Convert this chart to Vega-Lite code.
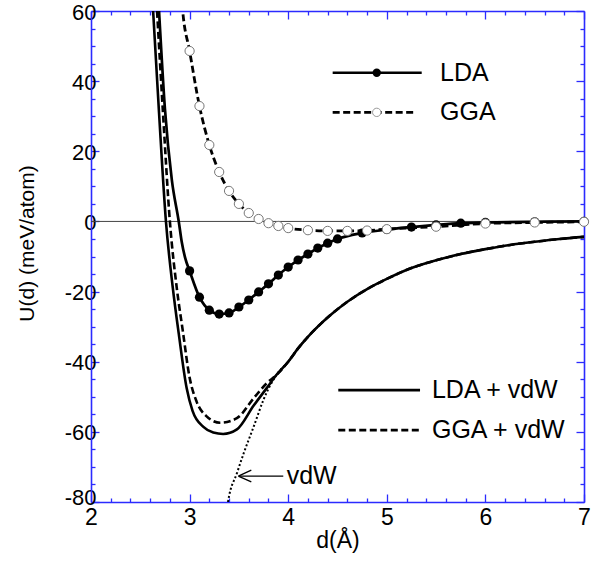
{
  "$schema": "https://vega.github.io/schema/vega-lite/v6.json",
  "width": 493,
  "height": 491,
  "autosize": {"type": "none"},
  "padding": {"left": 91, "top": 11, "right": 16, "bottom": 63},
  "config": {"view": {"stroke": null}, "font": "Liberation Sans"},
  "datasets": {
    "lda": [
      {"d": 2.66, "U": 75, "measured": false},
      {"d": 2.69, "U": 60, "measured": false},
      {"d": 2.75, "U": 32, "measured": false},
      {"d": 2.82, "U": 11.8, "measured": false},
      {"d": 2.89, "U": 0, "measured": false},
      {"d": 2.92, "U": -5.8, "measured": false},
      {"d": 2.955, "U": -10.4, "measured": false},
      {"d": 3.0, "U": -14.1, "measured": true},
      {"d": 3.1, "U": -21.6, "measured": true},
      {"d": 3.2, "U": -25.3, "measured": true},
      {"d": 3.3, "U": -26.4, "measured": true},
      {"d": 3.4, "U": -26.1, "measured": true},
      {"d": 3.5, "U": -24.4, "measured": true},
      {"d": 3.6, "U": -22.4, "measured": true},
      {"d": 3.7, "U": -20.1, "measured": true},
      {"d": 3.8, "U": -17.8, "measured": true},
      {"d": 3.9, "U": -15.3, "measured": true},
      {"d": 4.0, "U": -13.0, "measured": true},
      {"d": 4.1, "U": -11.0, "measured": true},
      {"d": 4.2, "U": -9.3, "measured": true},
      {"d": 4.3, "U": -7.6, "measured": true},
      {"d": 4.4, "U": -6.2, "measured": true},
      {"d": 4.5, "U": -5.0, "measured": true},
      {"d": 4.75, "U": -3.3, "measured": true},
      {"d": 5.0, "U": -2.3, "measured": true},
      {"d": 5.25, "U": -1.6, "measured": true},
      {"d": 5.5, "U": -1.0, "measured": true},
      {"d": 5.75, "U": -0.5, "measured": true},
      {"d": 6.0, "U": -0.3, "measured": true},
      {"d": 6.5, "U": -0.1, "measured": true},
      {"d": 7.0, "U": 0.0, "measured": true}
    ],
    "gga": [
      {"d": 2.88, "U": 80, "measured": false},
      {"d": 2.93, "U": 60, "measured": false},
      {"d": 3.0, "U": 48.6, "measured": true},
      {"d": 3.1, "U": 32.9, "measured": true},
      {"d": 3.2, "U": 21.8, "measured": true},
      {"d": 3.3, "U": 14.1, "measured": true},
      {"d": 3.4, "U": 8.7, "measured": true},
      {"d": 3.5, "U": 5.0, "measured": true},
      {"d": 3.6, "U": 2.4, "measured": true},
      {"d": 3.7, "U": 0.7, "measured": true},
      {"d": 3.8, "U": -0.5, "measured": true},
      {"d": 3.9, "U": -1.3, "measured": true},
      {"d": 4.0, "U": -1.9, "measured": true},
      {"d": 4.2, "U": -2.5, "measured": true},
      {"d": 4.4, "U": -2.7, "measured": true},
      {"d": 4.6, "U": -2.7, "measured": true},
      {"d": 4.8, "U": -2.6, "measured": true},
      {"d": 5.0, "U": -2.2, "measured": true},
      {"d": 5.5, "U": -1.5, "measured": true},
      {"d": 6.0, "U": -0.6, "measured": true},
      {"d": 6.5, "U": -0.3, "measured": true},
      {"d": 7.0, "U": -0.1, "measured": true}
    ],
    "ldavdw": [
      {"d": 2.6, "U": 75},
      {"d": 2.63, "U": 60},
      {"d": 2.69, "U": 31},
      {"d": 2.76, "U": 0},
      {"d": 2.83, "U": -19},
      {"d": 2.89, "U": -32},
      {"d": 2.97, "U": -47.5},
      {"d": 3.03, "U": -54},
      {"d": 3.14, "U": -58.6},
      {"d": 3.24, "U": -60.2},
      {"d": 3.34, "U": -60.6},
      {"d": 3.48, "U": -59.3},
      {"d": 3.65, "U": -52.5},
      {"d": 3.78, "U": -47.6},
      {"d": 3.88, "U": -43.8},
      {"d": 4.0, "U": -40},
      {"d": 4.1, "U": -36.2},
      {"d": 4.2, "U": -32.9},
      {"d": 4.3, "U": -30},
      {"d": 4.42, "U": -26.9},
      {"d": 4.6, "U": -22.9},
      {"d": 4.8, "U": -19.3},
      {"d": 5.0, "U": -16.4},
      {"d": 5.25, "U": -13.3},
      {"d": 5.5, "U": -11.1},
      {"d": 5.75, "U": -9.3},
      {"d": 6.0, "U": -7.9},
      {"d": 6.25, "U": -6.7},
      {"d": 6.5, "U": -5.8},
      {"d": 6.75, "U": -5.0},
      {"d": 7.0, "U": -4.4}
    ],
    "ggavdw": [
      {"d": 2.64, "U": 75},
      {"d": 2.67, "U": 60},
      {"d": 2.73, "U": 31},
      {"d": 2.8, "U": 0},
      {"d": 2.87, "U": -19},
      {"d": 2.93, "U": -31},
      {"d": 3.0, "U": -44.5},
      {"d": 3.07, "U": -51.3},
      {"d": 3.17, "U": -55.5},
      {"d": 3.31, "U": -57.4},
      {"d": 3.48, "U": -56.1},
      {"d": 3.65, "U": -50.4},
      {"d": 3.78, "U": -46.2},
      {"d": 3.88, "U": -43.8},
      {"d": 4.0, "U": -40},
      {"d": 4.1, "U": -36.2},
      {"d": 4.2, "U": -32.9},
      {"d": 4.3, "U": -30},
      {"d": 4.42, "U": -26.9},
      {"d": 4.6, "U": -22.9},
      {"d": 4.8, "U": -19.3},
      {"d": 5.0, "U": -16.4},
      {"d": 5.25, "U": -13.3},
      {"d": 5.5, "U": -11.1},
      {"d": 5.75, "U": -9.3},
      {"d": 6.0, "U": -7.9},
      {"d": 6.25, "U": -6.7},
      {"d": 6.5, "U": -5.8},
      {"d": 6.75, "U": -5.0},
      {"d": 7.0, "U": -4.4}
    ],
    "vdw": [
      {"d": 3.37, "U": -86},
      {"d": 3.39, "U": -80},
      {"d": 3.48, "U": -71.8},
      {"d": 3.55, "U": -66},
      {"d": 3.65, "U": -58.5},
      {"d": 3.75, "U": -50.8},
      {"d": 3.88, "U": -43.8},
      {"d": 4.0, "U": -40},
      {"d": 4.1, "U": -36.2},
      {"d": 4.2, "U": -32.9},
      {"d": 4.3, "U": -30},
      {"d": 4.42, "U": -26.9}
    ]
  },
  "resolve": {"axis": {"x": "independent", "y": "independent"}},
  "layer": [
    {
      "mark": {"type": "rule", "color": "#444444", "strokeWidth": 1},
      "data": {"values": [{"U": 0}]},
      "encoding": {
        "y": {"field": "U", "type": "quantitative", "scale": {"domain": [-80, 60], "nice": false, "zero": false}, "axis": null}
      }
    },
    {
      "data": {"name": "vdw"},
      "mark": {"type": "line", "color": "black", "strokeWidth": 2, "strokeDash": [2, 2.2], "clip": true, "interpolate": "monotone"},
      "encoding": {
        "x": {"field": "d", "type": "quantitative", "scale": {"domain": [2, 7], "nice": false, "zero": false},
          "axis": {"orient": "top", "values": [2, 3, 4, 5, 6, 7], "tickSize": -8, "tickColor": "#2b2bff", "tickWidth": 1.3, "domainColor": "#2b2bff", "domainWidth": 1.6, "labels": false, "title": null, "grid": false}},
        "y": {"field": "U", "type": "quantitative", "scale": {"domain": [-80, 60], "nice": false, "zero": false},
          "axis": {"orient": "right", "values": [-80, -60, -40, -20, 0, 20, 40, 60], "tickSize": -8, "tickColor": "#2b2bff", "tickWidth": 1.3, "domainColor": "#2b2bff", "domainWidth": 1.6, "labels": false, "title": null, "grid": false}}
      }
    },
    {
      "data": {"name": "ggavdw"},
      "mark": {"type": "line", "color": "black", "strokeWidth": 2.6, "strokeDash": [7, 3.5], "clip": true, "interpolate": "monotone"},
      "encoding": {
        "x": {"field": "d", "type": "quantitative", "scale": {"domain": [2, 7], "nice": false, "zero": false},
          "axis": {"orient": "bottom", "values": [2.2, 2.4, 2.6, 2.8, 3.2, 3.4, 3.6, 3.8, 4.2, 4.4, 4.6, 4.8, 5.2, 5.4, 5.6, 5.8, 6.2, 6.4, 6.6, 6.8], "tickSize": -4, "tickColor": "#2b2bff", "tickWidth": 1.3, "domain": false, "labels": false, "title": null, "grid": false}},
        "y": {"field": "U", "type": "quantitative", "scale": {"domain": [-80, 60], "nice": false, "zero": false},
          "axis": {"orient": "left", "values": [-75, -70, -65, -55, -50, -45, -35, -30, -25, -15, -10, -5, 5, 10, 15, 25, 30, 35, 45, 50, 55], "tickSize": -4, "tickColor": "#2b2bff", "tickWidth": 1.3, "domain": false, "labels": false, "title": null, "grid": false}}
      }
    },
    {
      "data": {"name": "ldavdw"},
      "mark": {"type": "line", "color": "black", "strokeWidth": 2.6, "clip": true, "interpolate": "monotone"},
      "encoding": {
        "x": {"field": "d", "type": "quantitative", "scale": {"domain": [2, 7], "nice": false, "zero": false},
          "axis": {"orient": "bottom", "values": [2, 3, 4, 5, 6, 7], "tickSize": -8, "tickColor": "#2b2bff", "tickWidth": 1.3, "domainColor": "#2b2bff", "domainWidth": 1.6, "labelFontSize": 23, "labelColor": "black", "labelPadding": 12, "labelExpr": "'' + datum.value", "labelFlush": false, "labelOverlap": false, "title": "d(Å)", "titleFontSize": 23, "titleFontWeight": "normal", "titleColor": "black", "titlePadding": 0, "grid": false}},
        "y": {"field": "U", "type": "quantitative", "scale": {"domain": [-80, 60], "nice": false, "zero": false},
          "axis": {"orient": "left", "values": [-80, -60, -40, -20, 0, 20, 40, 60], "tickSize": -8, "tickColor": "#2b2bff", "tickWidth": 1.3, "domainColor": "#2b2bff", "domainWidth": 1.6, "labelFontSize": 22, "labelColor": "black", "labelPadding": 3, "labelOffset": {"condition": {"test": "datum.value == -80", "value": -5}, "value": 1}, "labelExpr": "'' + datum.value", "labelFlush": false, "labelOverlap": false, "title": "U(d) (meV/atom)", "titleFontSize": 21, "titleFontWeight": "normal", "titleColor": "black", "titleX": -64, "titleY": 232, "titleBaseline": "middle", "grid": false}}
      }
    },
    {
      "data": {"name": "gga"},
      "mark": {"type": "line", "color": "black", "strokeWidth": 2.8, "strokeDash": [7, 3.5], "clip": true, "interpolate": "monotone"},
      "encoding": {
        "x": {"field": "d", "type": "quantitative", "scale": {"domain": [2, 7], "nice": false, "zero": false},
          "axis": {"orient": "top", "values": [2.2, 2.4, 2.6, 2.8, 3.2, 3.4, 3.6, 3.8, 4.2, 4.4, 4.6, 4.8, 5.2, 5.4, 5.6, 5.8, 6.2, 6.4, 6.6, 6.8], "tickSize": -4, "tickColor": "#2b2bff", "tickWidth": 1.3, "domain": false, "labels": false, "title": null, "grid": false}},
        "y": {"field": "U", "type": "quantitative", "scale": {"domain": [-80, 60], "nice": false, "zero": false},
          "axis": {"orient": "right", "values": [-75, -70, -65, -55, -50, -45, -35, -30, -25, -15, -10, -5, 5, 10, 15, 25, 30, 35, 45, 50, 55], "tickSize": -4, "tickColor": "#2b2bff", "tickWidth": 1.3, "domain": false, "labels": false, "title": null, "grid": false}}
      }
    },
    {
      "data": {"name": "lda"},
      "mark": {"type": "line", "color": "black", "strokeWidth": 2.7, "clip": true, "interpolate": "monotone"},
      "encoding": {
        "x": {"field": "d", "type": "quantitative", "scale": {"domain": [2, 7], "nice": false, "zero": false}, "axis": null},
        "y": {"field": "U", "type": "quantitative", "scale": {"domain": [-80, 60], "nice": false, "zero": false}, "axis": null}
      }
    },
    {
      "data": {"name": "lda"},
      "transform": [{"filter": "datum.measured"}],
      "mark": {"type": "point", "shape": "circle", "filled": true, "color": "black", "size": 85, "opacity": 1},
      "encoding": {
        "x": {"field": "d", "type": "quantitative", "scale": {"domain": [2, 7], "nice": false, "zero": false}, "axis": null},
        "y": {"field": "U", "type": "quantitative", "scale": {"domain": [-80, 60], "nice": false, "zero": false}, "axis": null}
      }
    },
    {
      "data": {"name": "gga"},
      "transform": [{"filter": "datum.measured"}],
      "mark": {"type": "point", "shape": "circle", "filled": true, "fill": "white", "stroke": "#777777", "strokeWidth": 1, "size": 85, "opacity": 1},
      "encoding": {
        "x": {"field": "d", "type": "quantitative", "scale": {"domain": [2, 7], "nice": false, "zero": false}, "axis": null},
        "y": {"field": "U", "type": "quantitative", "scale": {"domain": [-80, 60], "nice": false, "zero": false}, "axis": null}
      }
    },
    {
      "data": {"values": [{"d": 4.451, "U": 42.4}, {"d": 5.354, "U": 42.4}, {"d": 4.508, "U": -48.1}, {"d": 5.337, "U": -48.1}]},
      "mark": {"type": "line", "color": "black", "strokeWidth": 2.6},
      "encoding": {
        "x": {"field": "d", "type": "quantitative", "scale": {"domain": [2, 7], "nice": false, "zero": false}, "axis": null},
        "y": {"field": "U", "type": "quantitative", "scale": {"domain": [-80, 60], "nice": false, "zero": false}, "axis": null},
        "detail": {"field": "U", "type": "nominal"}
      }
    },
    {
      "data": {"values": [{"d": 4.451, "U": 31.1}, {"d": 5.303, "U": 31.1}, {"d": 4.508, "U": -59.5}, {"d": 5.337, "U": -59.5}]},
      "mark": {"type": "line", "color": "black", "strokeWidth": 2.6, "strokeDash": [7, 3.5]},
      "encoding": {
        "x": {"field": "d", "type": "quantitative", "scale": {"domain": [2, 7], "nice": false, "zero": false}, "axis": null},
        "y": {"field": "U", "type": "quantitative", "scale": {"domain": [-80, 60], "nice": false, "zero": false}, "axis": null},
        "detail": {"field": "U", "type": "nominal"}
      }
    },
    {
      "data": {"values": [{"d": 4.898, "U": 42.4}]},
      "mark": {"type": "point", "shape": "circle", "filled": true, "color": "black", "size": 70, "opacity": 1},
      "encoding": {
        "x": {"field": "d", "type": "quantitative", "scale": {"domain": [2, 7], "nice": false, "zero": false}, "axis": null},
        "y": {"field": "U", "type": "quantitative", "scale": {"domain": [-80, 60], "nice": false, "zero": false}, "axis": null}
      }
    },
    {
      "data": {"values": [{"d": 4.898, "U": 31.1}]},
      "mark": {"type": "point", "shape": "circle", "filled": true, "fill": "white", "stroke": "#999999", "strokeWidth": 1, "size": 70, "opacity": 1},
      "encoding": {
        "x": {"field": "d", "type": "quantitative", "scale": {"domain": [2, 7], "nice": false, "zero": false}, "axis": null},
        "y": {"field": "U", "type": "quantitative", "scale": {"domain": [-80, 60], "nice": false, "zero": false}, "axis": null}
      }
    },
    {
      "data": {"values": [{"d": 3.5, "d2": 3.95, "U": -72.6}]},
      "mark": {"type": "rule", "color": "black", "strokeWidth": 1.3},
      "encoding": {
        "x": {"field": "d", "type": "quantitative", "scale": {"domain": [2, 7], "nice": false, "zero": false}, "axis": null},
        "x2": {"field": "d2"},
        "y": {"field": "U", "type": "quantitative", "scale": {"domain": [-80, 60], "nice": false, "zero": false}, "axis": null}
      }
    },
    {
      "data": {"values": [{"d": 3.494, "U": -72.6}]},
      "mark": {"type": "point", "shape": "M 0 0 L 2 -0.9 M 0 0 L 2 0.9", "filled": false, "stroke": "black", "strokeWidth": 1.3, "size": 169, "opacity": 1},
      "encoding": {
        "x": {"field": "d", "type": "quantitative", "scale": {"domain": [2, 7], "nice": false, "zero": false}, "axis": null},
        "y": {"field": "U", "type": "quantitative", "scale": {"domain": [-80, 60], "nice": false, "zero": false}, "axis": null}
      }
    },
    {
      "data": {"values": [
        {"d": 5.54, "U": 42.4, "label": "LDA"},
        {"d": 5.54, "U": 31.1, "label": "GGA"},
        {"d": 5.458, "U": -48.1, "label": "LDA + vdW"},
        {"d": 5.458, "U": -59.5, "label": "GGA + vdW"},
        {"d": 3.985, "U": -72.6, "label": "vdW"}
      ]},
      "mark": {"type": "text", "align": "left", "baseline": "middle", "fontSize": 25, "color": "black"},
      "encoding": {
        "x": {"field": "d", "type": "quantitative", "scale": {"domain": [2, 7], "nice": false, "zero": false}, "axis": null},
        "y": {"field": "U", "type": "quantitative", "scale": {"domain": [-80, 60], "nice": false, "zero": false}, "axis": null},
        "text": {"field": "label"}
      }
    }
  ]
}
